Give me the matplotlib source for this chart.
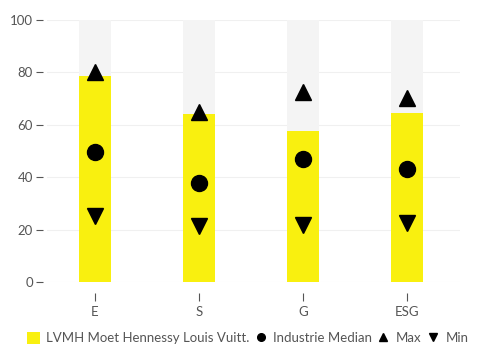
import matplotlib
matplotlib.use("Agg")
import matplotlib.pyplot as plt
from matplotlib.lines import Line2D
from matplotlib.patches import Patch

categories = ["E", "S", "G", "ESG"]
company = [78.6, 64.1, 57.6, 64.4]
median = [49.5, 37.7, 46.8, 43.3]
maxv = [80.0, 64.9, 72.5, 70.4]
minv = [25.2, 21.4, 21.6, 22.6]
yticks = [0, 20, 40, 60, 80, 100]
company_name = "LVMH Moet Hennessy Louis Vuitt."

plt.rcParams['font.family'] = ['Lato', 'DejaVu Sans']

fig = plt.figure(figsize=(4.78, 3.45), dpi=100)
ax = fig.add_axes([47/478, 1-282/345, (460-47)/478, (282-20)/345])

x = list(range(len(categories)))
bw = 0.31
ax.bar(x, [100]*len(x), width=bw, color="#f4f4f4", zorder=1)
ax.bar(x, company, width=bw, color="#f9f00f", zorder=2)
ax.plot(x, median, 'o', color='black', ms=11.5, zorder=3, linestyle='none')
ax.plot(x, maxv, '^', color='black', ms=12, zorder=3, linestyle='none')
ax.plot(x, minv, 'v', color='black', ms=12, zorder=3, linestyle='none')

ax.set_xlim(-0.46, 3.51)
ax.set_ylim(0, 100)
ax.set_yticks(yticks)
ax.set_xticks(x)
ax.set_xticklabels(categories)
for s in ax.spines.values():
    s.set_visible(False)
ax.spines['left'].set_position(('outward', 3))
ax.spines['bottom'].set_position(('outward', 8))
ax.grid(axis='y', color='#f0f0f0', linewidth=0.8, zorder=0)
ax.set_axisbelow(True)
ax.tick_params(axis='y', length=5, width=0.8, color='#555555', labelcolor='#555555', labelsize=9.5, pad=2)
ax.tick_params(axis='x', length=6, width=0.8, color='#555555', labelcolor='#555555', labelsize=9.5, pad=3)

handles = [
    Patch(facecolor="#f9f00f", edgecolor='none'),
    Line2D([], [], marker='o', color='black', linestyle='none', ms=5.5),
    Line2D([], [], marker='^', color='black', linestyle='none', ms=5.5),
    Line2D([], [], marker='v', color='black', linestyle='none', ms=5.5),
]
labels = [company_name, "Industrie Median", "Max", "Min"]
fig.legend(handles, labels, loc='center left', bbox_to_anchor=(27/478, 1-338/345), ncol=4,
           frameon=False, fontsize=9.5, handlelength=1.0, handleheight=1.0, handletextpad=0.45,
           columnspacing=0.35, labelcolor='#555555', borderaxespad=0, borderpad=0)

fig.savefig("out.png", dpi=100)
